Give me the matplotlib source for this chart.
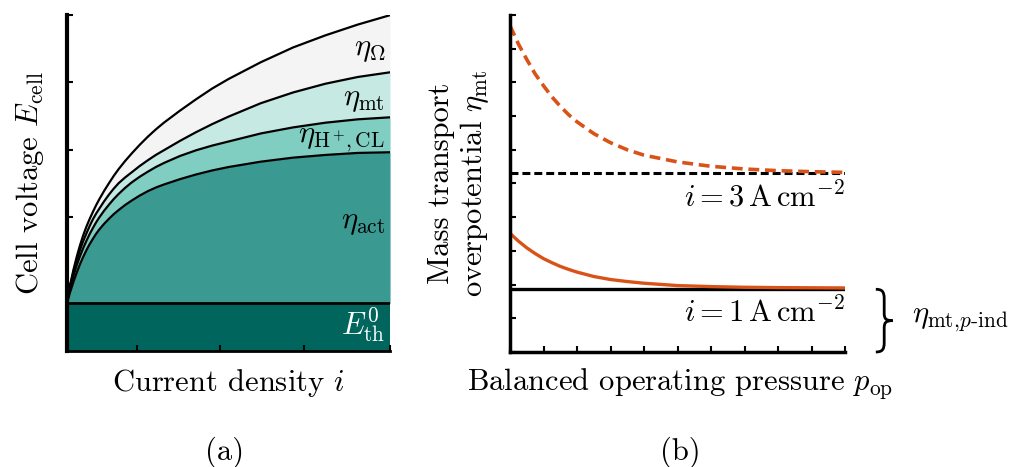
import numpy as np
import matplotlib
matplotlib.use("Agg")
import matplotlib.pyplot as plt
from matplotlib.path import Path
from matplotlib.patches import PathPatch
import matplotlib.transforms as mtransforms

plt.rcParams["font.family"] = "serif"
plt.rcParams["font.serif"] = ["cmr10"]
plt.rcParams["mathtext.fontset"] = "cm"
plt.rcParams["axes.unicode_minus"] = False
plt.rcParams["axes.formatter.use_mathtext"] = True

# (a) polarisation curve, stacked losses (arbitrary units)
i_dens = [0, 0.005, 0.01, 0.02, 0.03, 0.04, 0.05, 0.06, 0.07, 0.08, 0.09,
          0.10, 0.115, 0.13, 0.145, 0.16, 0.18, 0.20, 0.225, 0.25, 0.275,
          0.30, 0.35, 0.40, 0.45, 0.50, 0.60, 0.70, 0.80, 0.90, 1.00]
e_th = 0.71
e_act = [0.71, 0.80, 0.88, 1.03, 1.165, 1.29, 1.40, 1.50, 1.59, 1.67, 1.745,
         1.81, 1.895, 1.97, 2.04, 2.10, 2.175, 2.24, 2.315, 2.38, 2.435,
         2.48, 2.56, 2.63, 2.69, 2.74, 2.82, 2.88, 2.92, 2.95, 2.96]
e_hcl = [0.71, 0.83, 0.93, 1.12, 1.275, 1.41, 1.53, 1.64, 1.74, 1.83, 1.915,
         1.99, 2.09, 2.18, 2.265, 2.34, 2.43, 2.51, 2.595, 2.67, 2.74,
         2.80, 2.905, 2.99, 3.06, 3.12, 3.24, 3.33, 3.40, 3.45, 3.48]
e_mt = [0.71, 0.85, 0.97, 1.18, 1.35, 1.50, 1.635, 1.75, 1.86, 1.96, 2.045,
        2.12, 2.23, 2.33, 2.42, 2.50, 2.585, 2.66, 2.755, 2.84, 2.92,
        2.99, 3.13, 3.26, 3.38, 3.49, 3.69, 3.85, 3.98, 4.08, 4.15]
e_cell = [0.71, 0.86, 0.99, 1.21, 1.40, 1.57, 1.72, 1.85, 1.965, 2.07, 2.17,
          2.26, 2.385, 2.50, 2.61, 2.71, 2.83, 2.94, 3.07, 3.19, 3.30,
          3.40, 3.58, 3.75, 3.91, 4.05, 4.30, 4.52, 4.70, 4.86, 5.00]

# (b) mass transport overpotential vs. operating pressure
p_op = [0, 0.025, 0.05, 0.075, 0.10, 0.125, 0.15, 0.175, 0.20, 0.25, 0.30,
        0.35, 0.40, 0.50, 0.60, 0.70, 0.80, 0.90, 1.00]
eta_3 = [9.68, 9.14, 8.68, 8.25, 7.90, 7.57, 7.29, 7.04, 6.83, 6.48, 6.21,
         6.00, 5.84, 5.64, 5.51, 5.43, 5.38, 5.35, 5.33]
eta_1 = [3.52, 3.29, 3.09, 2.92, 2.77, 2.65, 2.54, 2.45, 2.37, 2.24, 2.15,
         2.09, 2.04, 1.97, 1.94, 1.92, 1.91, 1.905, 1.90]
eta_3_ind = 5.30
eta_1_ind = 1.86

c_th = "#00665d"
c_act = "#3a9991"
c_hcl = "#80cec1"
c_mt = "#c6eae3"
c_ohm = "#f4f4f4"
orange = "#d95319"

fig = plt.figure(figsize=(10.16, 4.67), dpi=100)
ax1 = fig.add_axes([0.0659, 0.248, 0.318, 0.7195])
ax2 = fig.add_axes([0.502, 0.2463, 0.3297, 0.7216])

fs = 22

# ---- (a)
x = np.array(i_dens)
ax1.fill_between(x, 0, e_th, color=c_th, lw=0)
ax1.fill_between(x, e_th, e_act, color=c_act, lw=0)
ax1.fill_between(x, e_act, e_hcl, color=c_hcl, lw=0)
ax1.fill_between(x, e_hcl, e_mt, color=c_mt, lw=0)
ax1.fill_between(x, e_mt, e_cell, color=c_ohm, lw=0)
for y in (e_act, e_hcl, e_mt, e_cell):
    ax1.plot(x, y, color="k", lw=1.6, solid_joinstyle="round")
ax1.axhline(e_th, color="k", lw=2.0)

ax1.set_xlim(0, 1)
ax1.set_ylim(0, 5)
ax1.set_xticks([0.217, 0.474, 0.734, 1.0])
ax1.set_yticks([1, 2, 3, 4, 5])
ax1.set_xticklabels([])
ax1.set_yticklabels([])
ax1.tick_params(direction="in", length=4.5, width=1.5, color="k")
ax1.spines["top"].set_visible(False)
ax1.spines["right"].set_visible(False)
ax1.spines["left"].set_linewidth(3.0)
ax1.spines["bottom"].set_linewidth(2.0)

ax1.text(0.985, 4.48, r"$\eta_\Omega$", ha="right", va="center", fontsize=fs)
ax1.text(0.985, 3.73, r"$\eta_\mathrm{mt}$", ha="right", va="center", fontsize=fs)
ax1.text(0.985, 3.14, r"$\eta_{\mathrm{H}^+\!,\mathrm{CL}}$", ha="right", va="center", fontsize=fs)
ax1.text(0.985, 1.90, r"$\eta_\mathrm{act}$", ha="right", va="center", fontsize=fs)
ax1.text(0.985, 0.39, r"$E^0_\mathrm{th}$", ha="right", va="center", fontsize=fs, color="white")

ax1.set_ylabel(r"Cell voltage $E_\mathrm{cell}$", fontsize=fs)
ax1.yaxis.set_label_coords(-0.115, 0.5)
ax1.set_xlabel(r"Current density $i$", fontsize=fs)
ax1.xaxis.set_label_coords(0.5, -0.095)
ax1.xaxis.label.set_va("center")
ax1.yaxis.label.set_va("center")

# ---- (b)
ax2.axhline(eta_3_ind, color="k", lw=2.2, ls=(0, (2.6, 1.3)))
ax2.axhline(eta_1_ind, color="k", lw=2.4)
ax2.plot(p_op, eta_3, color=orange, lw=2.6, ls=(0, (3.0, 1.6)))
ax2.plot(p_op, eta_1, color=orange, lw=2.4)

ax2.set_xlim(0, 1)
ax2.set_ylim(0, 10)
ax2.set_xticks(np.arange(0, 1.01, 0.1))
ax2.set_yticks(np.arange(0, 10.1, 1))
ax2.set_xticklabels([])
ax2.set_yticklabels([])
ax2.tick_params(direction="in", length=4.5, width=1.5, color="k")
ax2.spines["top"].set_visible(False)
ax2.spines["right"].set_visible(False)
ax2.spines["left"].set_linewidth(2.5)
ax2.spines["bottom"].set_linewidth(2.5)

ax2.text(1.0, eta_3_ind - 0.25, r"$i = 3\,\mathrm{A\,cm^{-2}}$", ha="right", va="top", fontsize=fs)
ax2.text(1.0, eta_1_ind - 0.25, r"$i = 1\,\mathrm{A\,cm^{-2}}$", ha="right", va="top", fontsize=fs)

ax2.set_ylabel("Mass transport\n" + r"overpotential $\eta_\mathrm{mt}$", fontsize=fs, linespacing=1.15)
ax2.yaxis.set_label_coords(-0.152, 0.5)
ax2.yaxis.label.set_va("center")
ax2.set_xlabel(r"Balanced operating pressure $p_\mathrm{op}$", fontsize=fs)
ax2.xaxis.set_label_coords(0.507, -0.095)
ax2.xaxis.label.set_va("center")

# curly brace spanning the pressure-independent part
trans = mtransforms.blended_transform_factory(ax2.transAxes, ax2.transData)
bx0, bw = 1.092, 0.05
u = [0, 0.35, 0.5, 0.5, 0.5, 0.5, 0.6, 1.0, 0.6, 0.5, 0.5, 0.5, 0.5, 0.35, 0]
v = [1, 1, 0.97, 0.85, 0.62, 0.53, 0.5, 0.5, 0.5, 0.47, 0.38, 0.15, 0.03, 0, 0]
codes = [Path.MOVETO, Path.CURVE4, Path.CURVE4, Path.CURVE4, Path.LINETO,
         Path.CURVE4, Path.CURVE4, Path.CURVE4, Path.CURVE4, Path.CURVE4, Path.CURVE4,
         Path.LINETO, Path.CURVE4, Path.CURVE4, Path.CURVE4]
verts = [(bx0 + bw * a, eta_1_ind * b) for a, b in zip(u, v)]
ax2.add_patch(PathPatch(Path(verts, codes), transform=trans, fill=False,
                        lw=2.0, color="k", clip_on=False))
ax2.text(1.2, eta_1_ind / 2, r"$\eta_{\mathrm{mt},\!p\text{-}\mathrm{ind}}$",
         transform=trans, ha="left", va="center", fontsize=fs)

fig.text(225 / 1016, 1 - 452 / 467, "(a)", ha="center", va="center", fontsize=fs)
fig.text(680 / 1016, 1 - 452 / 467, "(b)", ha="center", va="center", fontsize=fs)

fig.savefig("out.png", dpi=100)
